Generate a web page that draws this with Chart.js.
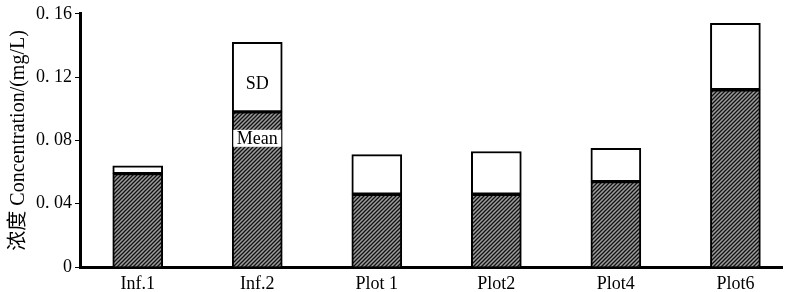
<!DOCTYPE html>
<html><head><meta charset="utf-8">
<script src="https://cdn.jsdelivr.net/npm/chart.js@4/dist/chart.umd.min.js"></script>
<style>html,body{margin:0;padding:0;background:#fff}#wrap{width:785px;height:292px}</style>
</head><body><div id="wrap"><canvas id="c" width="785" height="292"></canvas></div>
<script>
const categories = ["Inf.1", "Inf.2", "Plot 1", "Plot2", "Plot4", "Plot6"];
const meanValues = [0.059, 0.098, 0.046, 0.046, 0.054, 0.112];
const sdValues   = [0.005, 0.044, 0.025, 0.027, 0.021, 0.042];
const yTicks = [0, 0.04, 0.08, 0.12, 0.16];
const yTickLabels = ["0", "0. 04", "0. 08", "0. 12", "0. 16"];

function makePattern() {
  const p = document.createElement('canvas');
  p.width = 4; p.height = 4;
  const g = p.getContext('2d');
  g.fillStyle = '#9c9c9c'; g.fillRect(0,0,4,4);
  g.strokeStyle = '#111'; g.lineWidth = 1.3;
  g.beginPath();
  g.moveTo(0,4); g.lineTo(4,0);
  g.moveTo(-1,1); g.lineTo(1,-1);
  g.moveTo(3,5); g.lineTo(5,3);
  g.stroke();
  return document.getElementById('c').getContext('2d').createPattern(p, 'repeat');
}
const hatch = makePattern();
const serif = '"Liberation Serif", "DejaVu Serif", "Noto Sans CJK SC", serif';

const labelPlugin = {
  id: 'labels',
  afterDatasetsDraw(chart) {
    const ctx = chart.ctx, x = chart.scales.x, y = chart.scales.y;
    const cx = x.getPixelForValue(1);
    ctx.save();
    ctx.font = '18px ' + serif;
    ctx.textAlign = 'center'; ctx.textBaseline = 'middle';
    ctx.fillStyle = '#000';
    ctx.fillText('SD', cx, y.getPixelForValue(meanValues[1] + sdValues[1] * 0.4));
    const my = y.getPixelForValue(0.081);
    ctx.fillStyle = '#fff';
    ctx.fillRect(cx - 24, my - 9, 48, 17);
    ctx.fillStyle = '#000';
    ctx.fillText('Mean', cx, my);
    ctx.restore();
  }
};

new Chart(document.getElementById('c'), {
  type: 'bar',
  data: {
    datasets: [
      { label: 'Mean', data: meanValues.map((v, i) => ({x: i, y: v})), backgroundColor: hatch,
        borderColor: '#000', borderWidth: 2, borderSkipped: 'bottom', barThickness: 50, stack: 's' },
      { label: 'SD', data: sdValues.map((v, i) => ({x: i, y: v})), backgroundColor: '#fff',
        borderColor: '#000', borderWidth: 2, borderSkipped: false, barThickness: 50, stack: 's' }
    ]
  },
  options: {
    responsive: false, animation: false,
    layout: { padding: { top: 11, right: 3, left: 0, bottom: 0 } },
    plugins: { legend: { display: false }, tooltip: { enabled: false } },
    scales: {
      x: {
        type: 'linear', stacked: true, offset: false, min: -0.483, max: 5.39,
        afterBuildTicks: s => { s.ticks = categories.map((_, i) => ({ value: i })); },
        afterFit: s => { s.height = 25; },
        ticks: { callback: (v) => categories[v] ?? '', color: '#000', font: { family: serif, size: 18 }, padding: 6, maxRotation: 0, autoSkip: false },
        grid: { offset: false, drawOnChartArea: false, drawTicks: false, color: 'rgba(0,0,0,0)' },
        border: { display: true, color: '#000', width: 3 }
      },
      y: {
        stacked: true, min: 0, max: 0.16,
        afterBuildTicks: s => { s.ticks = yTicks.map(v => ({ value: v })); },
        afterFit: s => { s.width = 80; },
        ticks: { callback: (v) => yTickLabels[yTicks.indexOf(v)] ?? '', color: '#000', font: { family: serif, size: 18 }, padding: 3 },
        grid: { drawOnChartArea: false, drawTicks: true, tickLength: 5, color: '#000', lineWidth: 1 },
        border: { display: true, color: '#000', width: 3 },
        title: { display: true, text: '浓度 Concentration/(mg/L)', color: '#000', font: { family: serif, size: 20 }, padding: { top: 7, bottom: 0 } }
      }
    }
  },
  plugins: [labelPlugin]
});
</script>
</body></html>
